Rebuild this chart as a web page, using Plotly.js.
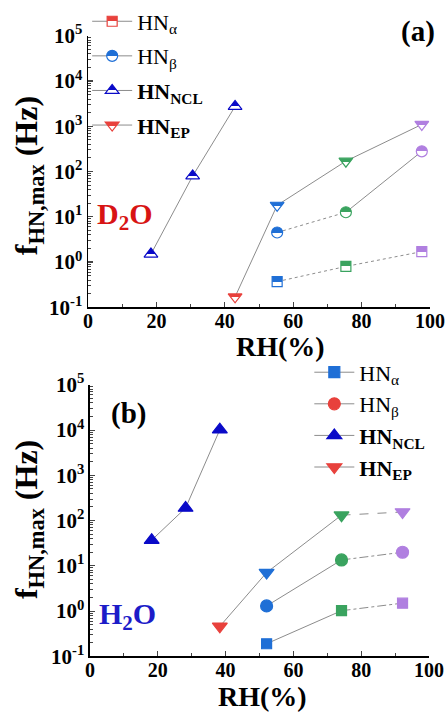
<!DOCTYPE html>
<html><head><meta charset="utf-8">
<script src="https://cdn.plot.ly/plotly-3.0.1.min.js"></script>
<style>body{margin:0;background:#fff}#c{width:447px;height:713px}</style>
</head><body><div id="c"></div>
<script>
// ---- Panel (a) D2O ----
const d2oAlphaRH = [55.3, 75.4, 97.6];
const d2oAlphaF  = [0.37, 0.8, 1.7];
const d2oBetaRH  = [55.3, 75.4, 97.6];
const d2oBetaF   = [4.5, 12.6, 280];
const d2oNclRH   = [18.4, 30.6, 43.0];
const d2oNclF    = [1.5, 80, 2750];
const d2oEpRH    = [43.0, 55.3, 75.4, 97.6];
const d2oEpF     = [0.17, 18, 170, 1100];
// ---- Panel (b) H2O ----
const h2oAlphaRH = [52.1, 74.2, 92.2];
const h2oAlphaF  = [0.19, 1.02, 1.5];
const h2oBetaRH  = [52.1, 74.2, 92.2];
const h2oBetaF   = [1.3, 13.5, 20];
const h2oNclRH   = [18.2, 28.2, 38.3];
const h2oNclF    = [37, 190, 10200];
const h2oEpRH    = [38.3, 52.1, 74.2, 92.2];
const h2oEpF     = [0.46, 7.1, 132, 155];
const legendNames = ['HN<sub>α</sub>', 'HN<sub>β</sub>', '<b>HN<sub>NCL</sub></b>', '<b>HN<sub>EP</sub></b>'];
const yTickVals = [0.1, 1, 10, 100, 1000, 10000, 100000];
const yTickText = ['<b>10<sup>-1</sup></b>', '<b>10<sup>0</sup></b>', '<b>10<sup>1</sup></b>', '<b>10<sup>2</sup></b>',
                   '<b>10<sup>3</sup></b>', '<b>10<sup>4</sup></b>', '<b>10<sup>5</sup></b>'];
const xTickVals = [0, 20, 40, 60, 80, 100];
const xTickText = ['<b>0</b>', '<b>20</b>', '<b>40</b>', '<b>60</b>', '<b>80</b>', '<b>100</b>'];

const BLUE = '#1f6fd6', GREEN = '#3aa35f', PURPLE = '#b07fe0', RED = '#e8413c', NCL = '#0a0ac8', GRAY = '#8c8c8c';
const rhColor = { 55.3: BLUE, 75.4: GREEN, 97.6: PURPLE, 52.1: BLUE, 74.2: GREEN, 92.2: PURPLE, 43.0: RED, 38.3: RED };
const SERIF = 'Liberation Serif';
// tag colours used to recognise each half-filled marker shape afterwards
const TAG = {'triangle-up': 'rgb(255,255,254)', 'triangle-down': 'rgb(255,254,255)', 'circle': 'rgb(254,255,255)', 'square': 'rgb(254,255,255)'};
const SPLIT = {'255,255,254': 0.62, '255,254,255': 0.40, '254,255,255': 0.5};

const traces = [];
function addLine(x, y, xa, ya, dash) {
  traces.push({x, y, xaxis: xa, yaxis: ya, mode: 'lines', showlegend: false, hoverinfo: 'skip',
    line: {color: GRAY, width: 1, dash: dash}});
}
function mk(symbol, size, colors, half) {
  const m = {symbol, size, color: colors, line: {color: colors, width: 1.2}};
  if (half) m.gradient = {type: 'vertical', color: TAG[symbol]};
  return m;
}
function addMarkers(x, y, xa, ya, symbol, size, colors, half) {
  traces.push({x, y, xaxis: xa, yaxis: ya, mode: 'markers', showlegend: false, marker: mk(symbol, size, colors, half)});
}
function addLegend(name, symbol, size, color, half, legend, xa, ya) {
  traces.push({x: [null], y: [null], xaxis: xa, yaxis: ya, name, legend, legendgroup: legend + name,
    mode: 'lines+markers', marker: mk(symbol, size, color, half), line: {color: GRAY, width: 1}});
}
const colFor = arr => arr.map(v => rhColor[v] || NCL);

// panel a
addLine(d2oNclRH, d2oNclF, 'x', 'y', 'solid');
addLine(d2oEpRH, d2oEpF, 'x', 'y', 'solid');
addLine(d2oBetaRH.slice(0, 2), d2oBetaF.slice(0, 2), 'x', 'y', 'dot');
addLine(d2oBetaRH.slice(1), d2oBetaF.slice(1), 'x', 'y', 'solid');
addLine(d2oAlphaRH, d2oAlphaF, 'x', 'y', 'dot');
addMarkers(d2oNclRH, d2oNclF, 'x', 'y', 'triangle-up', 12, d2oNclRH.map(() => NCL), true);
addMarkers(d2oEpRH, d2oEpF, 'x', 'y', 'triangle-down', 12, colFor(d2oEpRH), true);
addMarkers(d2oBetaRH, d2oBetaF, 'x', 'y', 'circle', 11, colFor(d2oBetaRH), true);
addMarkers(d2oAlphaRH, d2oAlphaF, 'x', 'y', 'square', 10, colFor(d2oAlphaRH), true);
addLegend(legendNames[0], 'square', 10, RED, true, 'legend', 'x', 'y');
addLegend(legendNames[1], 'circle', 11, BLUE, true, 'legend', 'x', 'y');
addLegend(legendNames[2], 'triangle-up', 12, NCL, true, 'legend', 'x', 'y');
addLegend(legendNames[3], 'triangle-down', 12, RED, true, 'legend', 'x', 'y');

// panel b
addLine(h2oNclRH, h2oNclF, 'x2', 'y2', 'solid');
addLine(h2oEpRH.slice(0, 3), h2oEpF.slice(0, 3), 'x2', 'y2', 'solid');
addLine(h2oEpRH.slice(2), h2oEpF.slice(2), 'x2', 'y2', 'dash');
addLine(h2oBetaRH.slice(0, 2), h2oBetaF.slice(0, 2), 'x2', 'y2', 'solid');
addLine(h2oBetaRH.slice(1), h2oBetaF.slice(1), 'x2', 'y2', 'dashdot');
addLine(h2oAlphaRH.slice(0, 2), h2oAlphaF.slice(0, 2), 'x2', 'y2', 'solid');
addLine(h2oAlphaRH.slice(1), h2oAlphaF.slice(1), 'x2', 'y2', 'dashdot');
addMarkers(h2oNclRH, h2oNclF, 'x2', 'y2', 'triangle-up', 13, h2oNclRH.map(() => NCL), false);
addMarkers(h2oEpRH, h2oEpF, 'x2', 'y2', 'triangle-down', 13, colFor(h2oEpRH), false);
addMarkers(h2oBetaRH, h2oBetaF, 'x2', 'y2', 'circle', 12, colFor(h2oBetaRH), false);
addMarkers(h2oAlphaRH, h2oAlphaF, 'x2', 'y2', 'square', 10, colFor(h2oAlphaRH), false);
addLegend(legendNames[0], 'square', 11, BLUE, false, 'legend2', 'x2', 'y2');
addLegend(legendNames[1], 'circle', 12, RED, false, 'legend2', 'x2', 'y2');
addLegend(legendNames[2], 'triangle-up', 13, NCL, false, 'legend2', 'x2', 'y2');
addLegend(legendNames[3], 'triangle-down', 13, RED, false, 'legend2', 'x2', 'y2');

const tickFont = {family: SERIF, size: 20, color: '#000'};
function xAxis(domain, anchor) {
  return {domain, anchor, range: [0, 100], tickvals: xTickVals, ticktext: xTickText, ticks: 'inside', ticklen: 5, tickwidth: 1.2,
    showline: true, linecolor: '#000', linewidth: 1.5, showgrid: false, zeroline: false, tickfont: tickFont,
    ticklabelstandoff: -5,
    minor: {ticks: 'inside', dtick: 10, ticklen: 3, tickwidth: 1}};
}
function yAxis(domain, anchor) {
  return {domain, anchor, type: 'log', range: [-1, 5], tickvals: yTickVals, ticktext: yTickText,
    ticks: 'inside', ticklen: 5, tickwidth: 1.2, showline: true, linecolor: '#000', linewidth: 1.5,
    showgrid: false, zeroline: false, tickfont: {family: SERIF, size: 21, color: '#000'},
    minor: {ticks: 'inside', dtick: 'D1', ticklen: 3, tickwidth: 1}};
}
const legFont = {family: SERIF, size: 22, color: '#000'};
const ann = (text, x, y, size, color, angle) => ({text, x, y, xref: 'paper', yref: 'paper', showarrow: false,
  xanchor: 'center', yanchor: 'middle', textangle: angle || 0, font: {family: SERIF, size, color}});
const layout = {
  width: 447, height: 713, margin: {l: 0, r: 0, t: 0, b: 0}, paper_bgcolor: '#fff', plot_bgcolor: 'rgba(0,0,0,0)',
  xaxis: xAxis([0.1969, 0.9620], 'y'), yaxis: yAxis([0.5722, 0.9551], 'x'),
  xaxis2: xAxis([0.2013, 0.9597], 'y2'), yaxis2: yAxis([0.0799, 0.4628], 'x2'),
  legend: {x: 0.195, y: 1.005, xanchor: 'left', yanchor: 'top', bgcolor: 'rgba(0,0,0,0)', font: legFont,
    tracegroupgap: 3, itemwidth: 40},
  legend2: {x: 0.692, y: 0.51, xanchor: 'left', yanchor: 'top', bgcolor: 'rgba(0,0,0,0)', font: legFont,
    tracegroupgap: 0, itemwidth: 40},
  annotations: [
    ann('<b>f<sub>HN,max</sub> (Hz)</b>', 0.064, 0.758, 32, '#000', -90),
    ann('<b>f<sub>HN,max</sub> (Hz)</b>', 0.064, 0.273, 32, '#000', -90),
    ann('<b>RH(%)</b>', 0.627, 0.517, 28, '#000'),
    ann('<b>RH(%)</b>', 0.588, 0.023, 28, '#000'),
    ann('<b>(a)</b>', 0.936, 0.961, 29, '#000'),
    ann('<b>(b)</b>', 0.288, 0.422, 29, '#000'),
    ann('<b>D<sub>2</sub>O</b>', 0.280, 0.701, 30, '#d81414'),
    ann('<b>H<sub>2</sub>O</b>', 0.285, 0.137, 30, '#1c1cc8')
  ]
};
function rgbKey(c) {
  if (!c) return '';
  if (c[0] === '#') {
    const h = c.length === 4 ? c.slice(1).split('').map(v => v + v).join('') : c.slice(1);
    return [0, 2, 4].map(i => parseInt(h.substr(i, 2), 16)).join(',');
  }
  const n = c.match(/\d+/g); return n ? n.slice(0, 3).join(',') : '';
}
function fixHalves() {
  document.querySelectorAll('linearGradient').forEach(g => {
    const stops = g.querySelectorAll('stop'); if (stops.length < 2) return;
    const cols = [...stops].map(s => s.getAttribute('stop-color') || s.style.stopColor);
    const keys = cols.map(rgbKey);
    const wi = keys.findIndex(k => k in SPLIT); if (wi < 0) return;
    const f = SPLIT[keys[wi]];
    const colored = cols[1 - wi];
    g.setAttribute('x1', '0'); g.setAttribute('x2', '0'); g.setAttribute('y1', '0'); g.setAttribute('y2', '1');
    const off = (f * 100) + '%';
    stops[0].setAttribute('stop-color', colored); stops[0].style.stopColor = colored; stops[0].setAttribute('offset', off);
    stops[1].setAttribute('stop-color', '#ffffff'); stops[1].style.stopColor = '#ffffff'; stops[1].setAttribute('offset', off);
    stops.forEach(s => { s.setAttribute('stop-opacity', '1'); s.style.stopOpacity = '1'; });
  });
}
Plotly.newPlot('c', traces, layout, {displayModeBar: false, staticPlot: true}).then(fixHalves);
</script></body></html>
